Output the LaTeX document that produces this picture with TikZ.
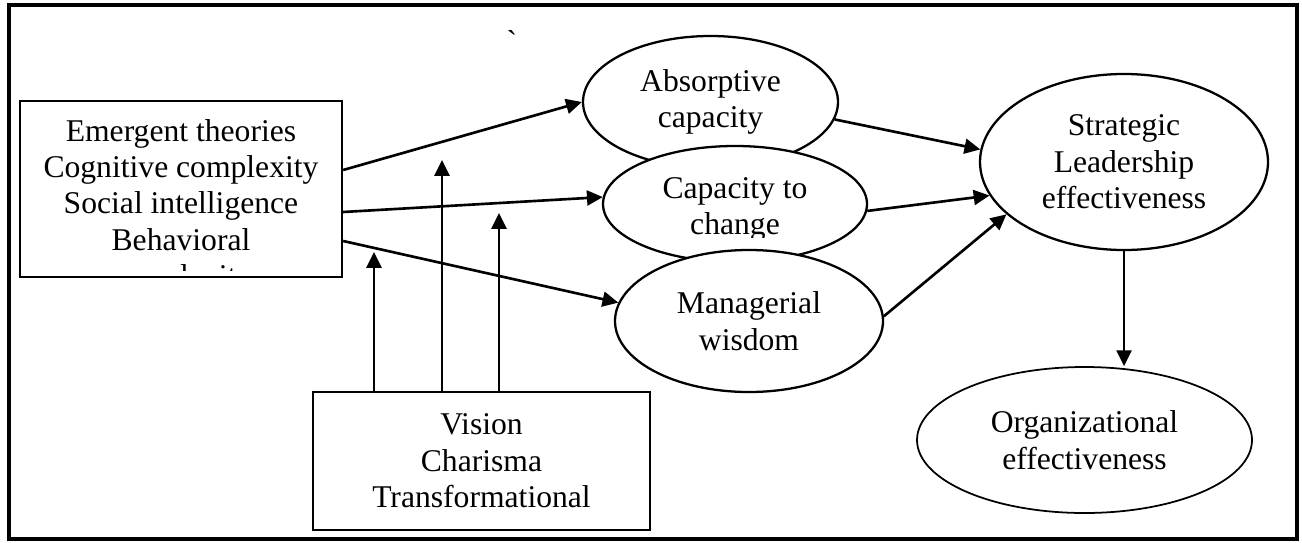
\documentclass[tikz,border=0pt]{standalone}
\usepackage{fontspec}
\setmainfont{Liberation Serif}
\usetikzlibrary{arrows.meta, shapes.geometric}

\begin{document}
\begin{tikzpicture}[>={Triangle[length=9pt, width=8.5pt]}, line width=1.3pt,
    every node/.style={font=\fontsize{18}{20.7}\selectfont, align=center, inner sep=0pt},
    box/.style={draw, rectangle},
    bubble/.style={draw, ellipse, fill=white},
    link/.style={->, line width=1.5pt}]

    \useasboundingbox (0,0) rectangle (26.04,10.84);

    % outer frame and the stray mark at the top
    \draw[line width=1.8pt] (0.18,0.06) rectangle (25.94,10.74);
    \node (tick) at (10.24,10.0) {\textasciigrave};

    % ==========================================
    % Antecedent boxes (left and bottom)
    % ==========================================
    \node[box, minimum width=6.44cm, minimum height=3.52cm] (traits) at (3.62,7.06) {};
    % text runs past the bottom of the box and gets cut off
    \begin{scope}
        \clip (0.42,5.44) rectangle (6.82,8.9);
        \node[anchor=north] (traitstext) at (3.62,8.48)
            {Emergent theories\\Cognitive complexity\\Social intelligence\\Behavioral\\complexity};
    \end{scope}

    \node[box, minimum width=6.74cm, minimum height=2.76cm] (vision) at (9.63,1.62)
        {Vision\\Charisma\\Transformational};

    % ==========================================
    % Mediators (overlapping ellipses)
    % ==========================================
    \node[bubble, minimum width=5.10cm, minimum height=2.64cm] (absorb) at (14.21,8.80)
        {Absorptive\\capacity};
    \node[bubble, minimum width=5.28cm, minimum height=2.32cm] (capacity) at (14.70,6.76) {};
    \begin{scope}
        \clip (12.0,6.10) rectangle (17.5,7.8);
        \node[anchor=north] (capacitytext) at (14.70,7.31) {Capacity to\\change};
    \end{scope}
    \node[bubble, minimum width=5.36cm, minimum height=2.84cm] (manager) at (14.98,4.42)
        {Managerial\\wisdom};

    % ==========================================
    % Outcomes (right side)
    % ==========================================
    \node[bubble, minimum width=5.76cm, minimum height=3.52cm] (strat) at (22.48,7.60)
        {Strategic\\Leadership\\effectiveness};
    \node[bubble, line width=1pt, minimum width=6.70cm, minimum height=2.92cm] (org) at (21.69,2.04)
        {Organizational\\effectiveness};

    % ==========================================
    % Paths
    % ==========================================
    \draw[link] ([yshift=0.38cm]traits.east) -- (absorb.west);
    \draw[link] ([yshift=-0.46cm]traits.east) -- (capacity.177);
    \draw[link] ([yshift=-1.04cm]traits.east) -- (manager.172);

    \draw[link] (absorb.-8) -- (strat.175);
    \draw[link] (capacity.-3) -- (strat.194);
    \draw[link] (manager.2) -- (strat.204);

    \draw[link] (strat.south) -- (strat.south |- org.north);

    % moderating arrows from the bottom box
    \coordinate (m1) at (7.48,5.80);
    \coordinate (m2) at (8.84,7.64);
    \coordinate (m3) at (9.98,6.58);
    \draw[link] (m1 |- vision.north) -- (m1);
    \draw[link] (m2 |- vision.north) -- (m2);
    \draw[link] (m3 |- vision.north) -- (m3);

\end{tikzpicture}
\end{document}
